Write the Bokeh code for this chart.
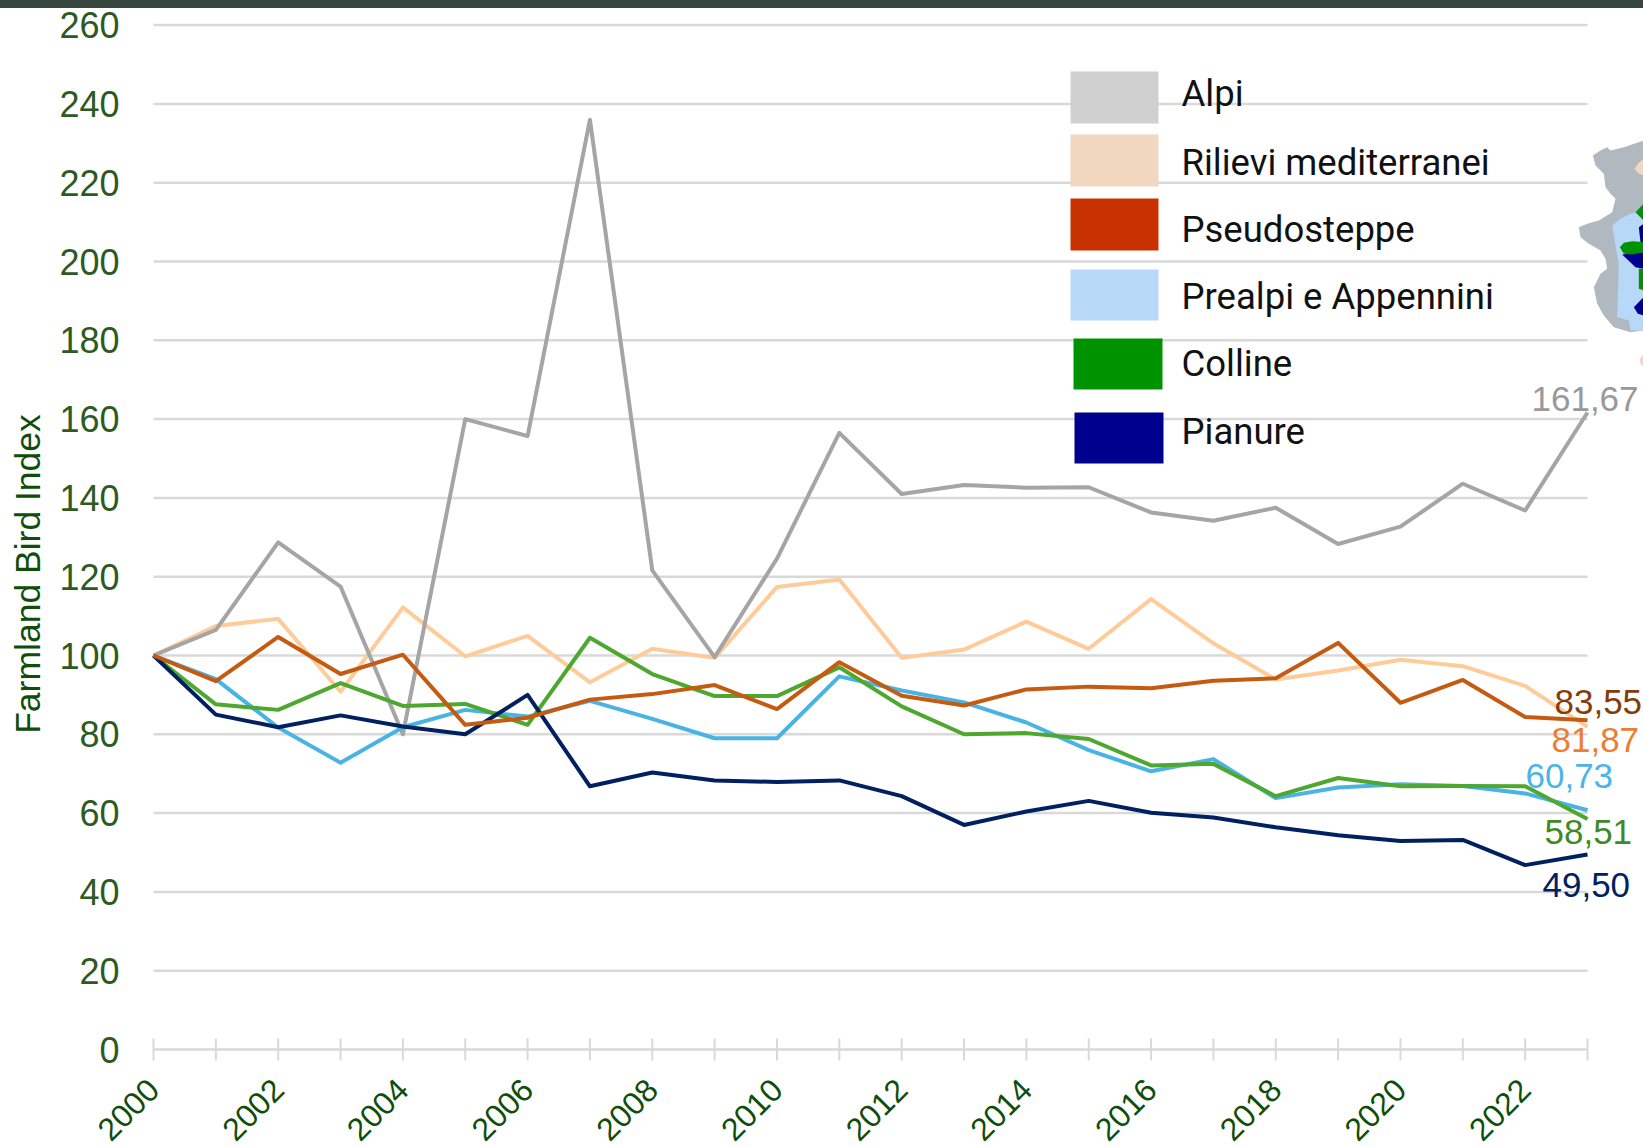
import math
from bokeh.plotting import figure
from bokeh.models import Range1d, FixedTicker, LinearAxis
from bokeh.core.properties import value
from bokeh.embed import file_html
from bokeh.resources import INLINE

years = list(range(2000, 2024))
alpi = [100,106.5,128.7,117.5,80,160,155.7,236,121.6,99.6,124.6,156.5,141,143.3,142.6,142.7,136.3,134.2,137.5,128.3,132.7,143.6,136.8,161.67]
rilievi = [100,107.5,109.3,90.8,112.2,99.8,105,93.2,101.7,99.4,117.4,119.3,99.4,101.5,108.6,101.7,114.3,103.1,93.9,96.2,98.9,97.3,92.3,81.87]
pseudosteppe = [100,93.5,104.7,95.3,100.2,82.4,84.2,88.8,90.2,92.5,86.4,98.3,89.8,87.3,91.4,92.1,91.7,93.6,94.2,103.2,88,93.8,84.4,83.55]
prealpi = [100,94,81.7,72.8,81.8,86.2,84.5,88.5,83.9,79,79,94.7,91.1,88.1,83,76,70.6,73.7,63.8,66.5,67.3,66.9,65,60.73]
colline = [100,87.6,86.2,93,87.2,87.7,82.4,104.5,95.3,89.7,89.7,97,87.1,80,80.3,78.8,72.1,72.5,64.3,68.9,66.8,66.9,66.8,58.51]
pianure = [100,85,81.8,84.8,82,80,90,66.8,70.3,68.3,67.9,68.3,64.3,57,60.4,63.1,60.1,58.9,56.4,54.4,52.9,53.2,46.8,49.5]

y_ticks = list(range(0, 261, 20))
x_labelled = list(range(2000, 2023, 2))

legend_names = ["Alpi", "Rilievi mediterranei", "Pseudosteppe", "Prealpi e Appennini", "Colline", "Pianure"]
legend_colors = ["#d0d0d0", "#f1d6c0", "#c83200", "#b8d8f8", "#009300", "#00008f"]
legend_left = [1070, 1070, 1070, 1070, 1073, 1074]
legend_right = [1158, 1158, 1158, 1158, 1162, 1163]
legend_top = [71, 134, 198, 269, 338, 412]
legend_bottom = [123, 186, 250, 320, 389, 463]
legend_text_y = [93, 162, 229, 296, 363, 431]

end_labels = ["161,67", "83,55", "81,87", "60,73", "58,51", "49,50"]
end_colors = ["#999999", "#843c0c", "#ed7d31", "#4ab5e6", "#3f8a27", "#002060"]
end_x = [1531, 1554, 1551, 1525, 1544, 1542]
end_y = [398, 701, 739, 775, 831, 884]

W, H = 1643, 1147
FRAME_LEFT, LEFT, BASE, PX_X, PX_Y = 70, 153, 1049, 62.348, 3.94
TICK = 11 / PX_Y
LABEL_Y = 1084

p = figure(width=W, height=H, output_backend="svg", toolbar_location=None,
           x_range=Range1d(2000 - (LEFT - FRAME_LEFT) / PX_X, 2000 + (W - LEFT) / PX_X),
           y_range=Range1d(-(H - BASE) / PX_Y, BASE / PX_Y),
           min_border_left=FRAME_LEFT, min_border_right=0, min_border_top=0, min_border_bottom=0,
           outline_line_color=None,
           background_fill_color="white", border_fill_color="white",
           x_axis_type=None, y_axis_type=None)
# dark band along the top edge of the screenshot
p.stylesheets = [":host::after{content:'';position:absolute;left:0;top:0;width:100%;height:8px;background:#37473f;z-index:10;}"]
p.extra_x_ranges["px"] = Range1d(FRAME_LEFT, W)
p.extra_y_ranges["px"] = Range1d(H, 0)
p.xgrid.visible = False
p.ygrid.visible = False

yax = LinearAxis(ticker=FixedTicker(ticks=y_ticks), bounds=(0, 260))
yax.axis_line_color = None
yax.major_tick_line_color = None
yax.minor_tick_line_color = None
yax.major_label_standoff = -55
yax.major_label_text_font = "Liberation Sans"
yax.major_label_text_font_size = "36px"
yax.major_label_text_color = "#2d5a1e"
yax.axis_label = "Farmland Bird Index"
yax.axis_label_standoff = 8
yax.axis_label_text_font = "Liberation Sans"
yax.axis_label_text_font_size = "35.5px"
yax.axis_label_text_font_style = "normal"
yax.axis_label_text_color = "#0f4d0a"
p.add_layout(yax, "left")

# x axis: grid-coloured base line, ticks on every year, slanted labels on even years
p.segment(x0=[years[0]], x1=[years[-1]], y0=[0], y1=[0], line_color="#d9d9d9", line_width=2.5)
p.segment(x0=years, x1=years, y0=[-TICK] * len(years), y1=[TICK] * len(years),
          line_color="#d9d9d9", line_width=2)
p.text(x=x_labelled, y=[LABEL_Y] * len(x_labelled), y_range_name="px",
       text=[str(y) for y in x_labelled], angle=math.pi / 4,
       text_align="right", text_baseline="middle", text_font=value("Liberation Sans"),
       text_font_size="32px", text_color="#0f4d0a")

p.segment(x0=[years[0]] * (len(y_ticks) - 1), x1=[years[-1]] * (len(y_ticks) - 1),
          y0=y_ticks[1:], y1=y_ticks[1:], line_color="#d9d9d9", line_width=2.5)

series = [(rilievi, "#ffcc99"), (alpi, "#a5a5a5"), (prealpi, "#4ab3e6"),
          (colline, "#4ea72e"), (pianure, "#002060"), (pseudosteppe, "#c55a11")]
for vals, col in series:
    p.line(years, vals, line_color=col, line_width=4, line_join="round")

p.quad(left=legend_left, right=legend_right, top=legend_top, bottom=legend_bottom,
       fill_color=legend_colors, line_color=None, x_range_name="px", y_range_name="px")
p.text(x=[1181] * 6, y=legend_text_y, text=legend_names, text_font=value("Roboto"),
       text_font_size="36.5px", text_color="#111111", text_baseline="middle",
       x_range_name="px", y_range_name="px")
p.text(x=end_x, y=end_y, text=end_labels, text_color=end_colors, text_font=value("Liberation Sans"),
       text_font_size="35px", text_baseline="middle", x_range_name="px", y_range_name="px")

# map fragment at the right edge, traced in crop coordinates of a 3x zoom
def mx(v): return [1560 + a / 3 for a in v]
def my(v): return [130 + a / 3 for a in v]
map_parts = [
 ("#b1b9c0", [97,120,140,150,190,249,249,210,160,130,110,100,120,140,135,120,85,60,55,80,115,155,165,150,135,130,105],
             [75,60,50,60,50,30,600,605,590,555,520,470,430,415,385,360,340,320,290,280,270,245,205,190,170,130,105]),
 ("#b8d8f8", [155,180,210,249,249,210,205,170,175,165,160], [285,265,250,240,600,600,570,560,400,345,315]),
 ("#f1d6c0", [222,232,249,249,235], [115,100,85,135,130]),
 ("#009300", [225,249,249], [245,220,270]),
 ("#00008f", [235,249,249,240], [290,280,340,335]),
 ("#00008f", [185,249,249,225], [372,365,415,410]),
 ("#009300", [178,190,215,249,249,215,190], [350,337,332,335,365,372,370]),
 ("#009300", [235,249,249,235], [415,415,480,475]),
 ("#00008f", [220,249,249,232], [530,500,555,550]),
 ("#f1d6c0", [238,249,249,240], [685,670,710,700]),
]
p.patches(xs=[mx(a) for _, a, _b in map_parts], ys=[my(b) for _, _a, b in map_parts],
          fill_color=[c for c, _, _b in map_parts], line_color=None,
          x_range_name="px", y_range_name="px")

open("out.html", "w").write(file_html(p, INLINE))
